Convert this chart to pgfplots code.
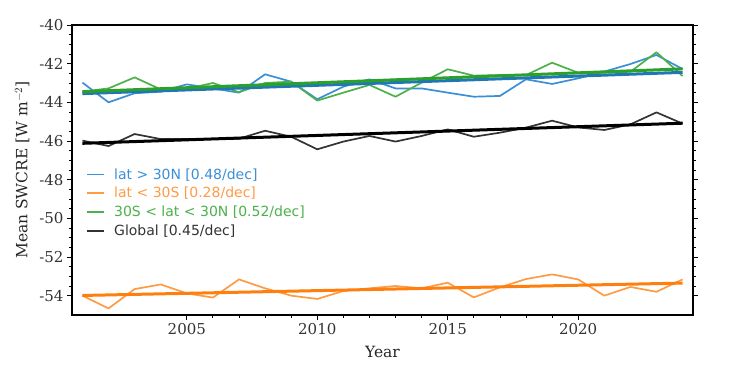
\documentclass[border=0pt]{standalone}
\usepackage{pgfplots}
\pgfplotsset{compat=1.18}
\usepackage{pgfplotstable}
\usepackage{fontspec}
\setmainfont{DejaVu Serif}
\newfontfamily\legendfont{DejaVu Sans}
\definecolor{tabblue}{HTML}{1F77B4}
\definecolor{taborange}{HTML}{FF7F0E}
\definecolor{tabgreen}{HTML}{2CA02C}
\definecolor{lblue}{HTML}{3A8FD6}
\definecolor{lorange}{HTML}{FF9A45}
\definecolor{lgreen}{HTML}{4CB04C}
\definecolor{lblack}{HTML}{333333}

\pgfplotstableread{
year nh sh trop glob
2001 -42.98 -54.00 -43.45 -45.98
2002 -44.00 -54.66 -43.28 -46.26
2003 -43.53 -53.66 -42.71 -45.64
2004 -43.45 -53.42 -43.33 -45.90
2005 -43.07 -53.88 -43.30 -45.90
2006 -43.28 -54.10 -43.00 -45.90
2007 -43.50 -53.16 -43.48 -45.88
2008 -42.55 -53.62 -43.00 -45.47
2009 -42.93 -54.00 -42.93 -45.78
2010 -43.84 -54.17 -43.91 -46.43
2011 -43.19 -53.76 -43.50 -46.03
2012 -42.81 -53.62 -43.10 -45.74
2013 -43.28 -53.50 -43.71 -46.03
2014 -43.28 -53.62 -42.98 -45.74
2015 -43.50 -53.33 -42.29 -45.40
2016 -43.71 -54.09 -42.62 -45.78
2017 -43.67 -53.57 -42.59 -45.57
2018 -42.81 -53.14 -42.59 -45.31
2019 -43.05 -52.90 -41.95 -44.95
2020 -42.76 -53.16 -42.47 -45.30
2021 -42.41 -54.00 -42.47 -45.43
2022 -42.02 -53.55 -42.42 -45.14
2023 -41.55 -53.80 -41.41 -44.52
2024 -42.28 -53.16 -42.64 -45.10
}\datatable

\pgfplotstableread{
year nh sh trop glob
2001 -43.55 -53.99 -43.45 -46.12
2024 -42.45 -53.35 -42.27 -45.08
}\trendtable

\begin{document}
\begin{tikzpicture}
\begin{axis}[
  scale only axis,
  width=621pt, height=290pt,
  xmin=2000.6, xmax=2024.4,
  ymin=-55, ymax=-40,
  xtick={2005,2010,2015,2020},
  xticklabels={2005,2010,2015,2020},
  ytick={-54,-52,-50,-48,-46,-44,-42,-40},
  yticklabels={-54,-52,-50,-48,-46,-44,-42,-40},
  minor x tick num=4,
  minor y tick num=3,
  tick align=outside,
  xtick pos=bottom,
  ytick pos=both,
  major tick length=5pt,
  minor tick length=3pt,
  tick style={black, line width=0.8pt},
  axis line style={line width=1.1pt},
  tick label style={font=\fontsize{15}{18}\selectfont, text=black!80},
  label style={font=\fontsize{15.5}{18}\selectfont, text=black!85},
  xlabel={Year},
  ylabel={Mean SWCRE [W m$^{-2}$]},
  xlabel style={yshift=-4pt},
  ylabel style={yshift=3pt},
  legend style={at={(0.018,0.52)}, anchor=north west, draw=none, fill=none,
    font=\legendfont\fontsize{14}{17}\selectfont, row sep=2.6pt,
    /tikz/every odd column/.append style={column sep=7pt}},
  legend cell align=left,
  legend image code/.code={\draw[#1, line width=1.8pt] (0pt,0pt) -- (17pt,0pt);},
]
\addplot[lblue, line width=1.7pt, line join=round] table[x=year, y=nh] {\datatable};
\addlegendentry{\textcolor{lblue}{lat > 30N [0.48/dec]}}
\addplot[lorange, line width=1.7pt, line join=round] table[x=year, y=sh] {\datatable};
\addlegendentry{\textcolor{lorange}{lat < 30S [0.28/dec]}}
\addplot[lgreen, line width=1.7pt, line join=round] table[x=year, y=trop] {\datatable};
\addlegendentry{\textcolor{lgreen}{30S < lat < 30N [0.52/dec]}}
\addplot[lblack, line width=1.7pt, line join=round] table[x=year, y=glob] {\datatable};
\addlegendentry{\textcolor{lblack}{Global [0.45/dec]}}

\addplot[tabblue, line width=3pt, forget plot] table[x=year, y=nh] {\trendtable};
\addplot[taborange, line width=3pt, forget plot] table[x=year, y=sh] {\trendtable};
\addplot[tabgreen, line width=3pt, forget plot] table[x=year, y=trop] {\trendtable};
\addplot[black, line width=3pt, forget plot] table[x=year, y=glob] {\trendtable};
\end{axis}
\path (current axis.south west) ++(-72pt,-50pt) coordinate (bbsw);
\path (current axis.north east) ++(52pt,25pt) coordinate (bbne);
\useasboundingbox (bbsw) rectangle (bbne);
\end{tikzpicture}
\end{document}
